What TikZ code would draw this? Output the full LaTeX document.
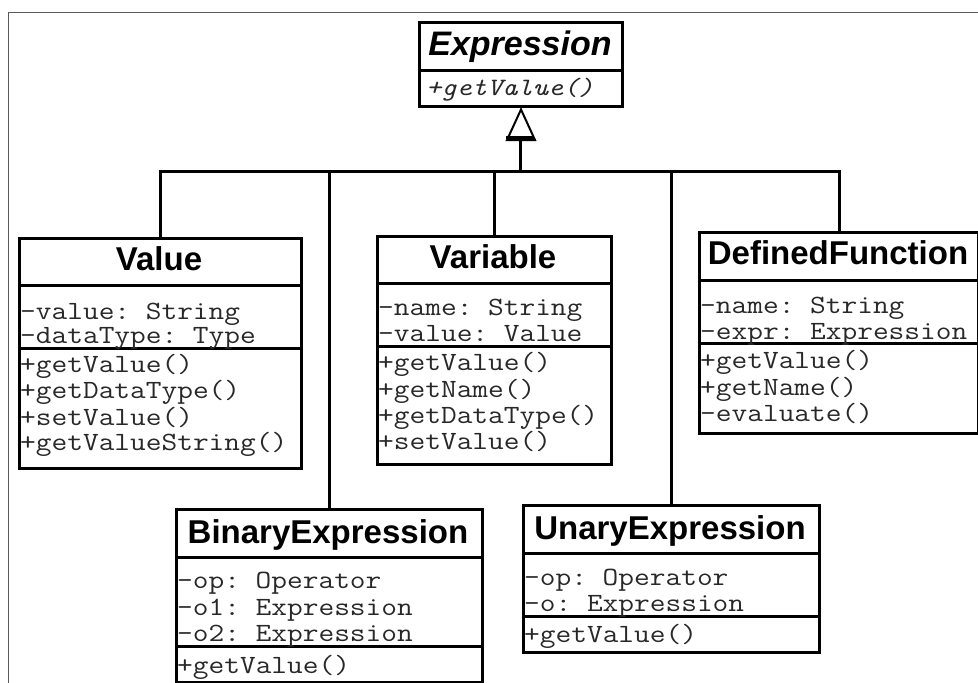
\documentclass[tikz,border=0pt]{standalone}
\usepackage{fontspec}
\usetikzlibrary{calc}
\setmainfont{Liberation Sans}
\setmonofont[FakeStretch=1.16]{Latin Modern Mono}
\definecolor{membergray}{RGB}{40,40,40}
\definecolor{framegray}{RGB}{90,90,90}
\newcommand{\titlefont}{\fontsize{33}{33}\selectfont\bfseries}
\newcommand{\memberfont}{\fontsize{26.3}{26.3}\selectfont\ttfamily}
\newcommand{\absmemberfont}{\fontsize{25}{25}\selectfont\ttfamily\itshape}
\begin{document}
\begin{tikzpicture}[x=1pt,y=-1pt,
  classbox/.style={draw=black, line width=3pt, fill=white, rectangle, inner sep=0pt, anchor=north west},
  divline/.style={line width=3pt},
  title/.style={inner sep=0pt, anchor=base, font=\titlefont, text=black},
  member/.style={inner sep=0pt, anchor=base west, font=\memberfont, text=membergray, text height=16pt, text depth=4pt},
  absmember/.style={inner sep=0pt, anchor=base west, font=\absmemberfont, text=membergray, text height=16pt, text depth=4pt},
  conn/.style={line width=3pt},
  tri/.style={line width=2pt, fill=white, line join=miter},
  frameline/.style={line width=1pt, draw=framegray}]
\useasboundingbox (0,0) rectangle (978,683);
\fill[white] (0,0) rectangle (978,683);
\draw[frameline] (8,700) -- (8,12) -- (995,12);

% Expression
\node[classbox, minimum width=203pt, minimum height=84pt] (expr) at (418,21) {};
\draw[divline] (expr.west |- 0,70) -- (expr.east |- 0,70);
\node[title, font=\fontsize{34}{34}\selectfont\bfseries\itshape] (expr-t) at (520,55) {Expression};
\node[absmember] (expr-m1) at (426,95) {+getValue()};

% Value
\node[classbox, minimum width=282pt, minimum height=230pt] (val) at (18,237) {};
\draw[divline] (val.west |- 0,285) -- (val.east |- 0,285);
\draw[divline] (val.west |- 0,348) -- (val.east |- 0,348);
\node[title] (val-t) at (159,270) {Value};
\node[member] (val-a1) at (20,319) {-value: String};
\node[member] (val-a2) at (20,343) {-dataType: Type};
\node[member] (val-m1) at (20,372) {+getValue()};
\node[member] (val-m2) at (20,398) {+getDataType()};
\node[member] (val-m3) at (20,425) {+setValue()};
\node[member] (val-m4) at (20,450) {+getValueString()};

% Variable
\node[classbox, minimum width=234pt, minimum height=228pt] (var) at (376,235) {};
\draw[divline] (var.west |- 0,283) -- (var.east |- 0,283);
\draw[divline] (var.west |- 0,346) -- (var.east |- 0,346);
\node[title] (var-t) at (493,268) {Variable};
\node[member] (var-a1) at (378,315) {-name: String};
\node[member] (var-a2) at (378,341) {-value: Value};
\node[member] (var-m1) at (378,370) {+getValue()};
\node[member] (var-m2) at (378,397) {+getName()};
\node[member] (var-m3) at (378,423) {+getDataType()};
\node[member] (var-m4) at (378,449) {+setValue()};

% DefinedFunction
\node[classbox, minimum width=279pt, minimum height=201pt] (def) at (698,231) {};
\draw[divline] (def.west |- 0,280) -- (def.east |- 0,280);
\draw[divline] (def.west |- 0,343) -- (def.east |- 0,343);
\node[title] (def-t) at (838,264) {DefinedFunction};
\node[member] (def-a1) at (700,313) {-name: String};
\node[member] (def-a2) at (700,339) {-expr: Expression};
\node[member] (def-m1) at (700,368) {+getValue()};
\node[member] (def-m2) at (700,395) {+getName()};
\node[member] (def-m3) at (700,421) {-evaluate()};

% BinaryExpression
\node[classbox, minimum width=306pt, minimum height=173pt] (bin) at (175,508) {};
\draw[divline] (bin.west |- 0,557) -- (bin.east |- 0,557);
\draw[divline] (bin.west |- 0,646) -- (bin.east |- 0,646);
\node[title] (bin-t) at (328,543) {BinaryExpression};
\node[member] (bin-a1) at (177,588) {-op: Operator};
\node[member] (bin-a2) at (177,615) {-o1: Expression};
\node[member] (bin-a3) at (177,641) {-o2: Expression};
\node[member] (bin-m1) at (177,673) {+getValue()};

% UnaryExpression
\node[classbox, minimum width=296pt, minimum height=147pt] (un) at (522,504) {};
\draw[divline] (un.west |- 0,553) -- (un.east |- 0,553);
\draw[divline] (un.west |- 0,616) -- (un.east |- 0,616);
\node[title] (un-t) at (670,539) {UnaryExpression};
\node[member] (un-a1) at (524,585) {-op: Operator};
\node[member] (un-a2) at (524,611) {-o: Expression};
\node[member] (un-m1) at (524,642) {+getValue()};

% generalization
\coordinate (tribase) at (520,137);
\coordinate (bus) at (520,171);
\draw[conn] (tribase) -- (bus);
\draw[conn] (val.north) |- (bus);
\draw[conn] (bin.north) |- (bus);
\draw[conn] (var.north) |- (bus);
\draw[conn] (un.north) |- (bus);
\draw[conn] (def.north) |- (bus);
\draw[tri] (expr.south) ++(0,1.5) -- ++(-14,30.5) -- ++(28,0) -- cycle;
\draw[line width=3pt] ($(tribase)+(-14,0)$) -- ($(tribase)+(14,0)$);
\end{tikzpicture}
\end{document}
